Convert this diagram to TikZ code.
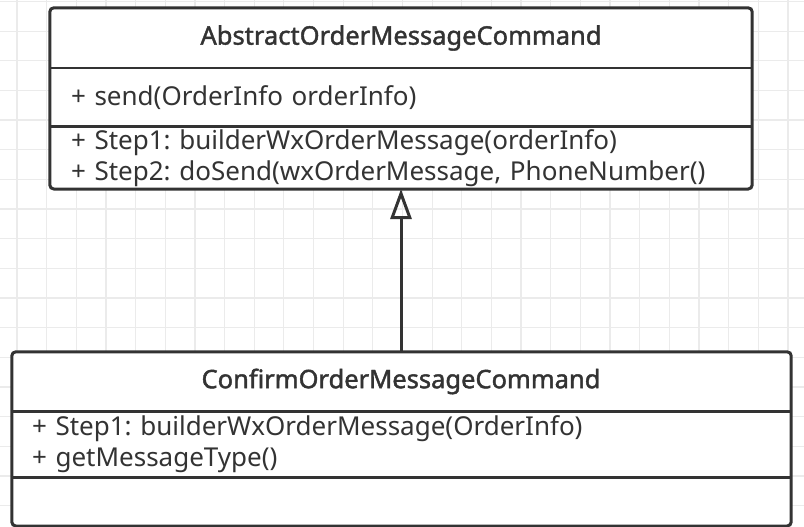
\documentclass[tikz,border=0pt]{standalone}
\usepackage{fontspec}
\setmainfont{Noto Sans}
\newfontfamily\titlefont{Noto Sans}[FakeBold=1.6]
\usetikzlibrary{positioning}
\usetikzlibrary {arrows.meta}

\definecolor{umlgray}{HTML}{333333}
\definecolor{gridgray}{HTML}{EBEBEB}

\tikzset{
  gridline/.style={draw=gridgray, line width=1.2pt},
  classbox/.style={draw=umlgray, line width=3pt, rounded corners=4pt},
  divider/.style={draw=umlgray, line width=2.6pt},
  classname/.style={minimum width=#1, minimum height=60pt, inner sep=0pt,
    fill=white, text=umlgray, font=\titlefont\fontsize{25.5}{30}\selectfont},
  compart/.style 2 args={text width=#1, minimum height=#2, inner xsep=21pt,
    inner ysep=0pt, align=left, fill=white, text=umlgray,
    font=\fontsize{26}{31}\selectfont\frenchspacing},
  inherit/.style={draw=umlgray, line width=3pt,
    -{Triangle[open, length=30pt, width=21pt]}},
}

\begin{document}
\begin{tikzpicture}[x=1pt, y=-1pt]
        \useasboundingbox (0,0) rectangle (804,527);
        \fill[white] (0,0) rectangle (804,527);

        % Grid
        \foreach \i in {0,...,26}
            \draw[gridline] ({17+29.65*\i},0) -- ({17+29.65*\i},527);
        \foreach \j in {0,...,17}
            \draw[gridline] (0,{1.5+29.65*\j}) -- (804,{1.5+29.65*\j});

        % Abstract class
        \node[classname=702pt] (abstitle) at (401,38) {AbstractOrderMessageCommand};
        \node[compart={660pt}{58pt}, below=0pt of abstitle] (absattr)
            {+ send(OrderInfo orderInfo)};
        \node[compart={660pt}{62pt}, below=0pt of absattr] (absops)
            {+ Step1: builderWxOrderMessage(orderInfo)\\
             + Step2: doSend(wxOrderMessage, PhoneNumber()};
        \draw[classbox] (abstitle.north west) rectangle (absops.south east);
        \draw[divider] (absattr.north west) -- (absattr.north east);
        \draw[divider] (absops.north west) -- (absops.north east);

        % Concrete class
        \node[classname=778pt, minimum height=59pt] (conftitle) at (401,381.5)
            {ConfirmOrderMessageCommand};
        \node[compart={738pt}{66pt}, below=0pt of conftitle] (confattr)
            {+ Step1: builderWxOrderMessage(OrderInfo)\\
             + getMessageType()};
        \node[compart={738pt}{48pt}, below=0pt of confattr] (confops) {};
        \draw[classbox] (conftitle.north west) rectangle (confops.south east);
        \draw[divider] (confattr.north west) -- (confattr.north east);
        \draw[divider] (confops.north west) -- (confops.north east);

        % Generalization
        \draw[inherit] (conftitle.north) -- (absops.south);
    \end{tikzpicture}
\end{document}
